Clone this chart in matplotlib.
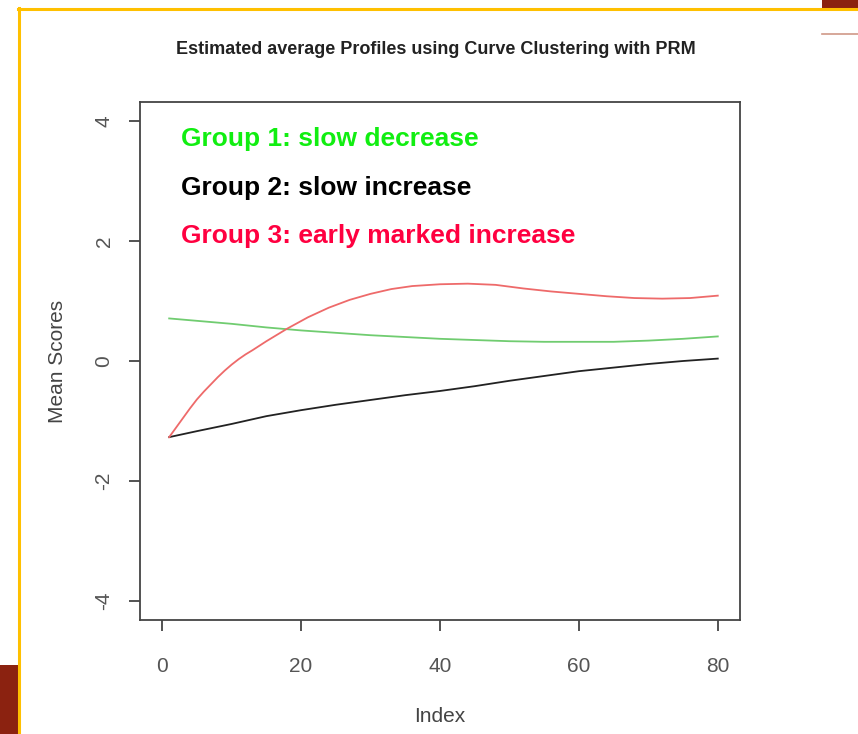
import matplotlib
matplotlib.use('Agg')
import matplotlib.pyplot as plt
from matplotlib.patches import Rectangle
from matplotlib.lines import Line2D

plt.rcParams['font.family'] = ['Liberation Sans', 'DejaVu Sans']
plt.rcParams['axes.unicode_minus'] = False

# --- data ---
idx = [1, 5, 10, 15, 20, 25, 30, 35, 40, 45, 50, 55, 60, 65, 70, 75, 80]
group1 = [0.71, 0.67, 0.62, 0.56, 0.51, 0.47, 0.43, 0.40, 0.37, 0.35,
          0.33, 0.32, 0.32, 0.32, 0.34, 0.37, 0.41]
group2 = [-1.27, -1.17, -1.05, -0.92, -0.82, -0.73, -0.65, -0.57, -0.50,
          -0.42, -0.33, -0.25, -0.17, -0.11, -0.05, 0.00, 0.04]
idx3 = [1, 2, 3, 4, 5, 6, 7, 8, 9, 10, 11, 12, 13, 15, 18, 21, 24, 27, 30,
        33, 36, 40, 44, 48, 52, 56, 60, 64, 68, 72, 76, 80]
group3 = [-1.27, -1.11, -0.95, -0.79, -0.64, -0.51, -0.39, -0.27, -0.16,
          -0.06, 0.03, 0.11, 0.18, 0.33, 0.54, 0.73, 0.89, 1.02, 1.12, 1.20,
          1.25, 1.28, 1.29, 1.27, 1.21, 1.16, 1.12, 1.08, 1.05, 1.04, 1.05,
          1.09]

labels = ['Group 1: slow decrease', 'Group 2: slow increase',
          'Group 3: early marked increase']
label_colors = ['#11ee11', 'black', '#ff0040']

W, H = 858, 734
fig = plt.figure(figsize=(W / 100, H / 100), dpi=100)
fig.patch.set_facecolor('white')

# slide decorations
fig.add_artist(Rectangle((822 / W, 1 - 8 / H), 36 / W, 8 / H, transform=fig.transFigure,
                         facecolor='#8b2210', edgecolor='none'))
fig.add_artist(Rectangle((0, 0), 18 / W, (H - 665) / H, transform=fig.transFigure,
                         facecolor='#8b2210', edgecolor='none'))
fig.add_artist(Line2D([18 / W, 1], [1 - 9 / H, 1 - 9 / H], transform=fig.transFigure,
                      color='#ffc000', lw=2.2))
fig.add_artist(Line2D([19 / W, 19 / W], [0, 1 - 8 / H], transform=fig.transFigure,
                      color='#ffc000', lw=2.2))
fig.add_artist(Line2D([822 / W, 1], [1 - 34 / H, 1 - 34 / H], transform=fig.transFigure,
                      color='#d09888', lw=1.2))

ax = fig.add_axes([140 / W, 1 - 620 / H, 600 / W, 518 / H])
ax.plot(idx, group1, color='#70cc70', lw=1.3)
ax.plot(idx, group2, color='#222222', lw=1.3)
ax.plot(idx3, group3, color='#ee6a6a', lw=1.3)

ax.set_xlim(-3.2, 83.2)
ax.set_ylim(-4.32, 4.32)
ax.set_xticks([0, 20, 40, 60, 80])
ax.set_yticks([-4, -2, 0, 2, 4])
for s in ax.spines.values():
    s.set_color('#444444')
    s.set_linewidth(1.3)
ax.tick_params(direction='out', length=8, width=1.3, color='#444444',
               labelsize=15, labelcolor='#555555')
ax.tick_params(axis='x', pad=19)
ax.tick_params(axis='y', pad=11)
for t in ax.get_yticklabels():
    t.set_rotation(90)
    t.set_va('center')

ax.set_xlabel('Index', fontsize=15, color='#444444', labelpad=22)
ax.set_ylabel('Mean Scores', fontsize=15, color='#444444', labelpad=20)
fig.text(436 / W, 1 - 50 / H,
         'Estimated average Profiles using Curve Clustering with PRM',
         ha='center', va='center', fontsize=13, fontweight='bold', color='#222222')

for i, (lab, c) in enumerate(zip(labels, label_colors)):
    fig.text(181 / W, 1 - (139 + 48.5 * i) / H, lab, ha='left', va='center',
             fontsize=19, fontweight='bold', color=c)

fig.savefig('out.png', dpi=100)
